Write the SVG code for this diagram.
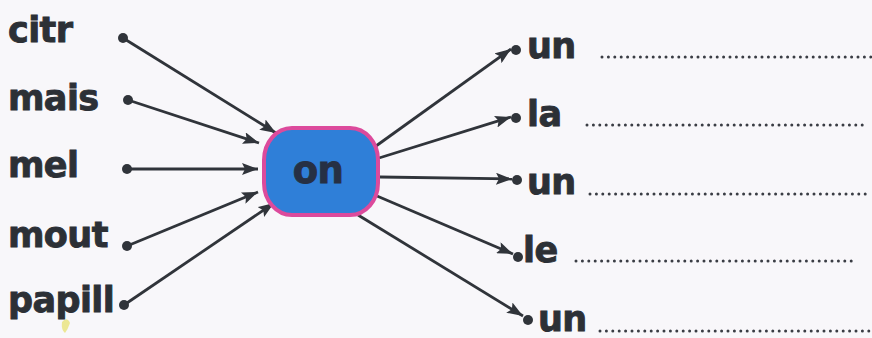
<svg xmlns="http://www.w3.org/2000/svg" width="872" height="338" viewBox="0 0 872 338">
<defs>
<marker id="ah" viewBox="0 0 16 12" refX="16" refY="6" markerWidth="16" markerHeight="12" markerUnits="userSpaceOnUse" orient="auto">
<path d="M0,0 L16,6 L0,12 L3,6 z" fill="#30343a"/>
</marker>
<style>
.w{font-family:"DejaVu Sans","Liberation Sans",sans-serif;font-weight:bold;font-size:35px;letter-spacing:-0.6px;fill:#2c3036;stroke:#2c3036;stroke-width:0.9;paint-order:stroke}
.ln{stroke:#30343a;stroke-width:2.8;fill:none;marker-end:url(#ah)}
.dt{fill:#30343a}
.dl{stroke:#3a3d44;stroke-width:3;stroke-dasharray:0 6.4;stroke-linecap:round;fill:none}
</style>
</defs>
<rect width="872" height="338" fill="#f8f7fa"/>
<path d="M62,322 q5,-6 8,1 q-2,6 -5,10 q-4,-3 -3,-11z" fill="#e8e27a" opacity="0.8"/>
<g id="connectors">
<line class="ln" x1="123" y1="38" x2="276" y2="133"/>
<line class="ln" x1="128" y1="100" x2="259" y2="143"/>
<line class="ln" x1="127" y1="169" x2="258" y2="169"/>
<line class="ln" x1="127" y1="246" x2="258" y2="192"/>
<line class="ln" x1="124" y1="305" x2="274" y2="203"/>
<line class="ln" x1="376" y1="146" x2="511" y2="49"/>
<line class="ln" x1="379" y1="158" x2="511" y2="117"/>
<line class="ln" x1="380" y1="177" x2="512" y2="179"/>
<line class="ln" x1="377" y1="196" x2="513" y2="254"/>
<line class="ln" x1="358" y1="215" x2="523" y2="316"/>
</g>
<g id="citr"><text class="w" x="8" y="42">citr</text><circle class="dt" cx="123" cy="38" r="5"/></g>
<g id="mais"><text class="w" x="8" y="110">mais</text><circle class="dt" cx="128" cy="100" r="5"/></g>
<g id="mel"><text class="w" x="8" y="177">mel</text><circle class="dt" cx="127" cy="169" r="5"/></g>
<g id="mout"><text class="w" x="8" y="247">mout</text><circle class="dt" cx="127" cy="246" r="5"/></g>
<g id="papill"><text class="w" x="8" y="312">papill</text><circle class="dt" cx="124" cy="305" r="5"/></g>
<g id="on">
<rect x="264" y="128" width="114" height="87" rx="28" ry="32" fill="#2f7fd8" stroke="#dc4a9c" stroke-width="4"/>
<text class="w" x="318" y="183" text-anchor="middle" style="fill:#263044;stroke:#263044;font-size:37px">on</text>
</g>
<g id="r1"><circle class="dt" cx="516" cy="50" r="5"/><text class="w" x="527" y="58">un</text><line class="dl" x1="602" y1="57" x2="872" y2="57"/></g>
<g id="r2"><circle class="dt" cx="516" cy="118" r="5"/><text class="w" x="527" y="126">la</text><line class="dl" x1="587" y1="125" x2="865" y2="125"/></g>
<g id="r3"><circle class="dt" cx="517" cy="180" r="5"/><text class="w" x="527" y="194">un</text><line class="dl" x1="590" y1="194" x2="869" y2="194"/></g>
<g id="r4"><circle class="dt" cx="518" cy="257" r="5"/><text class="w" x="523" y="262">le</text><line class="dl" x1="576" y1="261" x2="852" y2="261"/></g>
<g id="r5"><circle class="dt" cx="528" cy="320" r="5"/><text class="w" x="538" y="331">un</text><line class="dl" x1="600" y1="331" x2="872" y2="331"/></g>
</svg>
